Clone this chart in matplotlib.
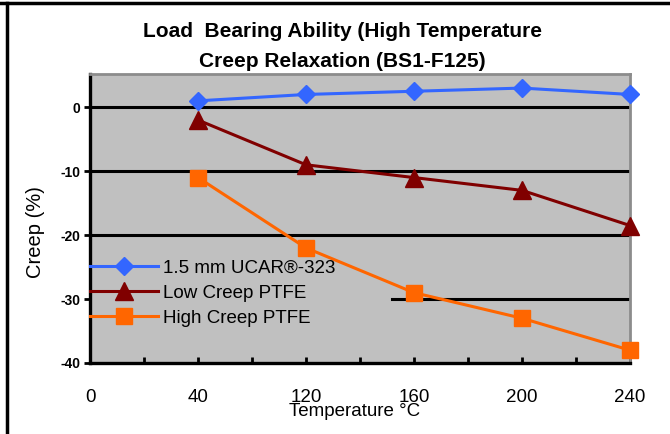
import numpy as np
import matplotlib
matplotlib.use("Agg")
import matplotlib.pyplot as plt
from matplotlib.lines import Line2D

plt.rcParams['font.family'] = ['Liberation Sans', 'DejaVu Sans']
plt.rcParams['axes.unicode_minus'] = False

# category labels on the x axis (first slot has no data)
temp_labels = ['0', '40', '120', '160', '200', '240']
data_idx = [1, 2, 3, 4, 5]
ucar = [1, 2, 2.5, 3, 2]
low_creep = [-2, -9, -11, -13, -18.5]
high_creep = [-11, -22, -29, -33, -38]
y_ticks = [0, -10, -20, -30, -40]

fig = plt.figure(figsize=(6.7, 4.34), dpi=100)
ax = fig.add_axes([90/670, 1-363/434, 540/670, 289/434])
ax.set_facecolor('#C0C0C0')

ax.set_xlim(0, 5)
ax.set_ylim(-40, 5.2)

# gridlines (the -30 one is hidden behind the legend box on the left)
for yv in [0, -10, -20]:
    ax.axhline(yv, color='black', lw=2.2, zorder=1)
ax.axhline(-30, xmin=302/540, color='black', lw=2.2, zorder=1)

ax.plot(data_idx, ucar, color='#3366FF', lw=2.2, marker='D', ms=9.5,
        label='1.5 mm UCAR®-323', zorder=3, clip_on=False)
ax.plot(data_idx, low_creep, color='#800000', lw=2.2, marker='^', ms=13,
        label='Low Creep PTFE', zorder=3, clip_on=False)
ax.plot(data_idx, high_creep, color='#FF6600', lw=2.2, marker='s', ms=12,
        label='High Creep PTFE', zorder=3, clip_on=False)

ax.set_xticks(range(len(temp_labels)))
ax.set_xticklabels(temp_labels)
ax.set_xticks(np.arange(0.5, 5, 1), minor=True)
ax.tick_params(axis='x', which='both', direction='in', length=4, width=2,
               labelsize=13.5, pad=19)
ax.set_yticks(y_ticks)
ax.tick_params(axis='y', direction='out', length=4, width=2, labelsize=10, pad=3)
for t in ax.get_yticklabels():
    t.set_fontweight('bold')

for s in ['left', 'bottom']:
    ax.spines[s].set_linewidth(2.4)
    ax.spines[s].set_color('black')
for s in ['top', 'right']:
    ax.spines[s].set_linewidth(2)
    ax.spines[s].set_color('#8C8C8C')

ax.set_xlabel('Temperature °C', fontsize=13.5)
ax.xaxis.set_label_coords(0.49, -0.138)
ax.set_ylabel('Creep (%)', fontsize=14.5)
ax.yaxis.set_label_coords(-0.083, 0.453)

leg = ax.legend(loc='upper left', bbox_to_anchor=(0, 0.358), frameon=False,
                fontsize=13.5, handlelength=3.6, handletextpad=0.3,
                labelspacing=0.42, borderaxespad=0, borderpad=0)

fig.text(342/670, 1-22/434,
         'Load  Bearing Ability (High Temperature\nCreep Relaxation (BS1-F125)',
         ha='center', va='top', fontsize=15, fontweight='bold', linespacing=1.72)

# figure border (top and left edges visible)
fig.add_artist(Line2D([0, 1], [1-3/434, 1-3/434], color='black', lw=2.5,
                      transform=fig.transFigure))
fig.add_artist(Line2D([7/670, 7/670], [0, 1-3/434], color='black', lw=2.5,
                      transform=fig.transFigure))

fig.savefig('out.png', dpi=100)
